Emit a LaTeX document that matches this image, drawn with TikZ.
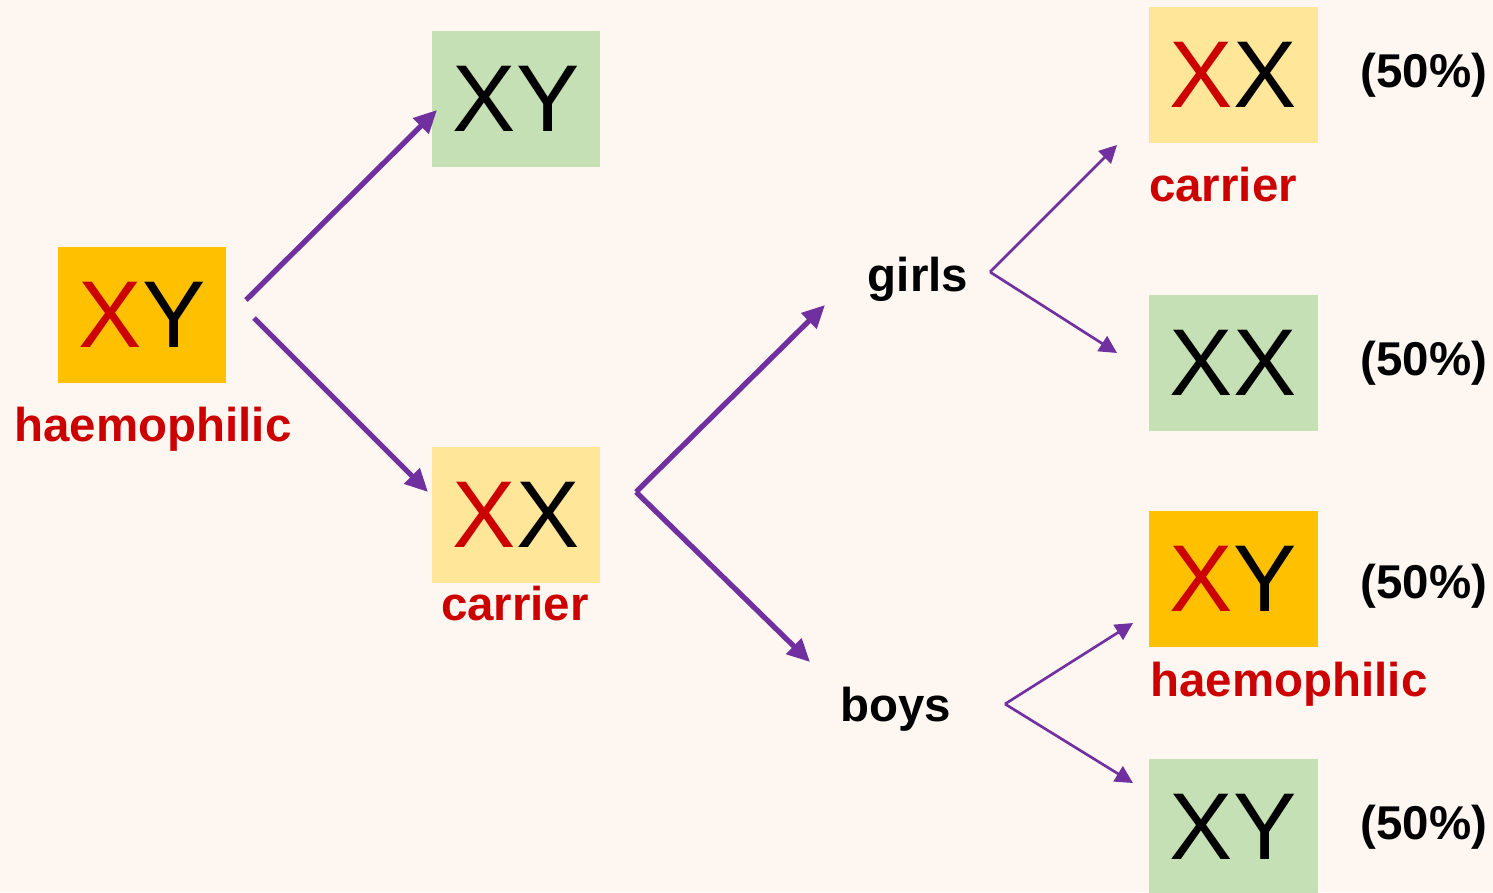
\documentclass[tikz,border=0pt]{standalone}
\usepackage{fontspec}
\setmainfont{Liberation Sans}
\usetikzlibrary{arrows.meta}

\definecolor{bgcream}{RGB}{254,246,240}
\definecolor{haemobox}{RGB}{255,192,0}
\definecolor{carrierbox}{RGB}{255,230,153}
\definecolor{healthybox}{RGB}{197,224,180}
\definecolor{genered}{RGB}{204,0,0}
\definecolor{arrowpurple}{RGB}{112,48,160}

\newcommand{\redX}{\textcolor{genered}{X}}

\tikzset{
  geno/.style={rectangle, minimum width=3.38cm, minimum height=2.72cm, inner sep=0pt,
    font=\fontsize{54}{60}\selectfont},
  tag/.style={inner sep=0pt, font=\fontsize{27}{32}\selectfont\bfseries, text=genered},
  kid/.style={inner sep=0pt, font=\fontsize{27}{32}\selectfont\bfseries},
  bigarrow/.style={arrowpurple, line width=3pt, -{Triangle[length=13pt, width=12pt]}},
  smallarrow/.style={arrowpurple, line width=1.5pt, -{Triangle[length=10pt, width=10pt]}}
}

\begin{document}
\begin{tikzpicture}[x=0.02cm, y=-0.02cm]
  \fill[bgcream] (0,0) rectangle (1493,892);
  \useasboundingbox (0,0) rectangle (1493,892);

  % father and his children
  \node[geno, fill=haemobox] (father) at (142, 315) {\redX Y};
  \node[tag] (fathertag) at (153, 429) {haemophilic};
  \node[geno, fill=healthybox] (son) at (516, 99) {XY};
  \node[geno, fill=carrierbox] (daughter) at (516, 515) {\redX X};
  \node[tag] (daughtertag) at (515, 604) {carrier};

  % grandchildren
  \node[kid] (girls) at (918, 279) {girls};
  \node[kid] (boys) at (896, 709) {boys};
  \node[geno, fill=carrierbox] (girlA) at (1233, 75) {\redX X};
  \node[tag] (girlAtag) at (1223, 185) {carrier};
  \node[geno, fill=healthybox] (girlB) at (1233, 363) {XX};
  \node[geno, fill=haemobox] (boyA) at (1233, 579) {\redX Y};
  \node[tag] (boyAtag) at (1289, 684) {haemophilic};
  \node[geno, fill=healthybox] (boyB) at (1233, 827) {XY};

  \node[kid] (pctA) at (1424, 75) {(50\%)};
  \node[kid] (pctB) at (1424, 363) {(50\%)};
  \node[kid] (pctC) at (1424, 586) {(50\%)};
  \node[kid] (pctD) at (1424, 827) {(50\%)};

  % fork points and arrow tips
  \coordinate (forkup) at (246, 300);
  \coordinate (forkdown) at (254, 318);
  \coordinate (toson) at (437, 110);
  \coordinate (todaughter) at (428, 492);
  \coordinate (forkmid) at (636, 492);
  \coordinate (togirls) at (825, 305);
  \coordinate (toboys) at (810, 662);
  \coordinate (forkgirls) at (990, 272);
  \coordinate (togirlA) at (1117, 145);
  \coordinate (togirlB) at (1117, 353);
  \coordinate (forkboys) at (1005, 704);
  \coordinate (toboyA) at (1133, 623);
  \coordinate (toboyB) at (1133, 783);

  \draw[bigarrow] (forkup) -- (toson);
  \draw[bigarrow] (forkdown) -- (todaughter);
  \draw[bigarrow] (forkmid) -- (togirls);
  \draw[bigarrow] (forkmid) -- (toboys);
  \draw[smallarrow] (forkgirls) -- (togirlA);
  \draw[smallarrow] (forkgirls) -- (togirlB);
  \draw[smallarrow] (forkboys) -- (toboyA);
  \draw[smallarrow] (forkboys) -- (toboyB);
\end{tikzpicture}
\end{document}
